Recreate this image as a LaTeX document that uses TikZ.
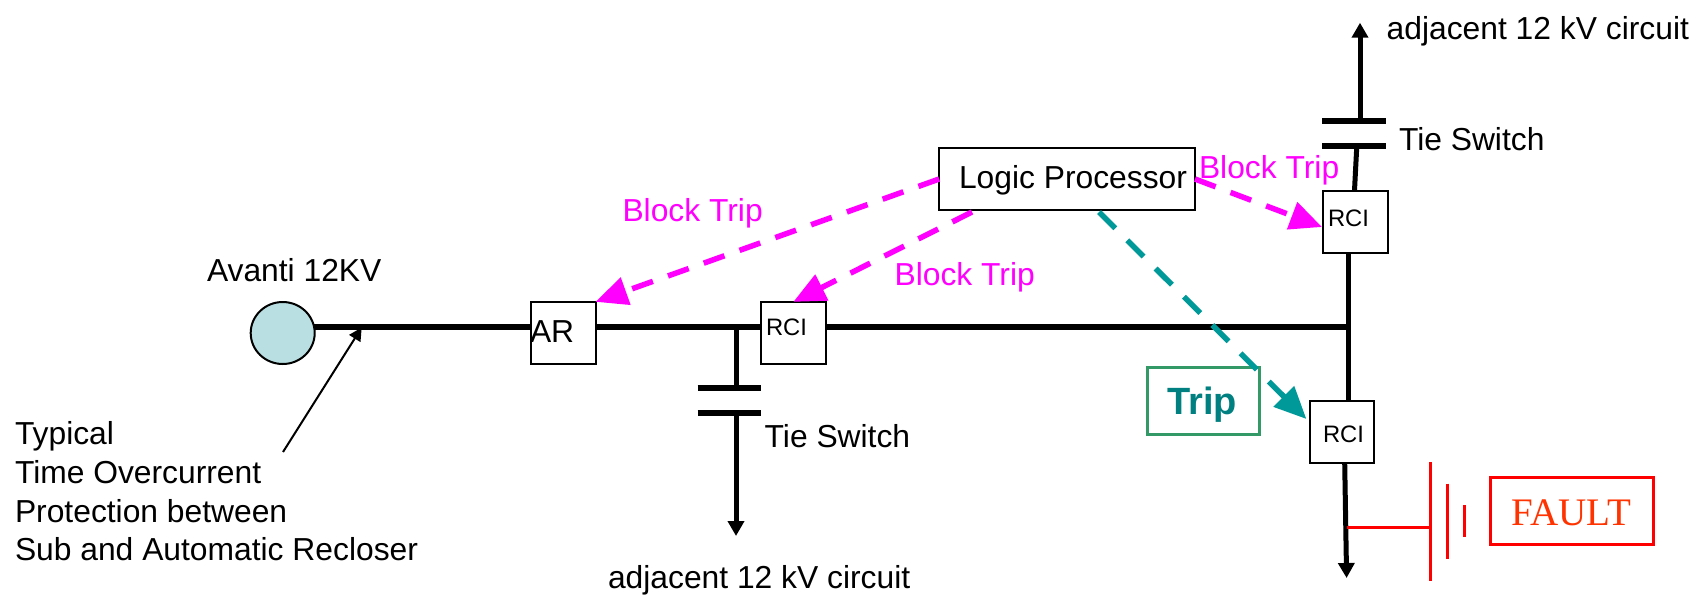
\documentclass[tikz,border=0pt]{standalone}
\usepackage{fontspec}
\setmainfont{Liberation Sans}
\newfontfamily\faultfont{Liberation Serif}
\usetikzlibrary{arrows.meta,shapes.geometric}
\definecolor{srcfill}{HTML}{B9DFE2}
\definecolor{blockpink}{HTML}{FF00FF}
\definecolor{tripteal}{HTML}{009999}
\definecolor{triptext}{HTML}{008080}
\definecolor{tripgreen}{HTML}{339966}
\definecolor{faultred}{HTML}{FF0000}
\definecolor{faulttext}{HTML}{FF3300}
\tikzset{
  x=1pt,y=-1pt,
  txt/.style={inner sep=0pt,outer sep=0pt,anchor=base west,font=\fontsize{31.8}{36}\selectfont},
  smalltxt/.style={txt,font=\fontsize{23.8}{26}\selectfont},
  pinktxt/.style={txt,text=blockpink},
  devbox/.style={draw=black,line width=2pt,fill=white,inner sep=0pt,outer sep=0pt},
  wire/.style={draw=black,line width=6pt},
  feeder/.style={draw=black,line width=5pt},
  plate/.style={draw=black,line width=6pt},
  feedarrow/.style={feeder,-{Triangle[length=15pt,width=16pt]}},
  blockarrow/.style={draw=blockpink,line width=5.5pt,dash pattern=on 22pt off 16pt,-{Triangle[length=32pt,width=28pt]}},
  triparrow/.style={draw=tripteal,line width=5.5pt,dash pattern=on 23pt off 17pt,-{Triangle[length=32pt,width=28pt]}},
  faultline/.style={draw=faultred,line width=3pt},
}
\begin{document}
\begin{tikzpicture}
\useasboundingbox (0,0) rectangle (1694,595);
\fill[white] (0,0) rectangle (1694,595);
% devices
\node[ellipse,draw=black,line width=2pt,fill=srcfill,minimum width=64pt,minimum height=62pt,inner sep=0pt,outer sep=0pt] (src) at (282.7,333) {};
\node[devbox,minimum width=64.7pt,minimum height=62.3pt] (ar) at (563.2,333) {};
\node[devbox,minimum width=64.6pt,minimum height=62.3pt] (rcib) at (793.3,333) {};
\node[devbox,minimum width=65pt,minimum height=62pt] (rcia) at (1355,222) {};
\node[devbox,minimum width=64pt,minimum height=62.3pt] (rcic) at (1342,432) {};
\node[devbox,minimum width=255.7pt,minimum height=62pt,fill=white] (logic) at (1067,179) {};
\node[draw=tripgreen,line width=3pt,minimum width=112pt,minimum height=67pt,inner sep=0pt,outer sep=0pt] (tripbox) at (1203.2,400.8) {};
\node[draw=faultred,line width=3pt,minimum width=162.5pt,minimum height=67.3pt,inner sep=0pt,outer sep=0pt] (faultbox) at (1572,511.3) {};
% wire coordinates
\coordinate (jct) at (1348.5,326.7);
\coordinate (tapb) at (736,326.7);
\coordinate (arin) at (ar.west |- jct);
\coordinate (arout) at (ar.east |- jct);
\coordinate (rbin) at (rcib.west |- jct);
\coordinate (rbout) at (rcib.east |- jct);
\coordinate (srcout) at (314,326.7);
\coordinate (platebl) at (697.5,388.3);
\coordinate (platebr) at (761,388.3);
\coordinate (platecl) at (697.5,413);
\coordinate (platecr) at (761,413);
\coordinate (bplatetop) at (736,388.3);
\coordinate (bplatebot) at (736,413);
\coordinate (btip) at (736,536);
\coordinate (plateal) at (1322.3,121.3);
\coordinate (platear) at (1386,121.3);
\coordinate (platedl) at (1322.3,145.7);
\coordinate (platedr) at (1386,145.7);
\coordinate (aplateup) at (1360,121.3);
\coordinate (atip) at (1360,22.7);
\coordinate (aplatelow) at (1356.8,145.7);
\coordinate (rcaNorth) at (1354.5,190.3);
\coordinate (rcaSouth) at (1348.5,253);
\coordinate (rccNorth) at (1348.5,400.7);
\coordinate (rccSouth) at (1344.7,463);
\coordinate (ctip) at (1346.6,578);
\coordinate (annostart) at (283,452);
\coordinate (annotip) at (361.7,327.5);
% black wires
\draw[wire] (srcout) -- (arin);
\draw[wire] (arout) -- (rbin);
\draw[wire] (rbout) -- (jct);
\draw[feeder] (tapb) -- (bplatetop);
\draw[plate] (platebl) -- (platebr);
\draw[plate] (platecl) -- (platecr);
\draw[feedarrow] (bplatebot) -- (btip);
\draw[feedarrow] (aplateup) -- (atip);
\draw[plate] (plateal) -- (platear);
\draw[plate] (platedl) -- (platedr);
\draw[feeder] (aplatelow) -- (rcaNorth);
\draw[feeder,line width=5.5pt] (rcaSouth) -- (rccNorth);
\draw[feedarrow] (rccSouth) -- (ctip);
\draw[draw=black,line width=2pt,-{Triangle[length=13pt,width=13pt]}] (annostart) -- (annotip);
% fault symbol
\coordinate (ftap) at (1347,527);
\coordinate (fp1) at (1430.7,527);
\coordinate (fp1t) at (1430.7,462.3);
\coordinate (fp1b) at (1430.7,580.7);
\coordinate (fp2t) at (1447.7,483.7);
\coordinate (fp2b) at (1447.7,559);
\coordinate (fp3t) at (1464.4,505);
\coordinate (fp3b) at (1464.4,537);
\draw[faultline] (ftap) -- (fp1);
\draw[faultline] (fp1t) -- (fp1b);
\draw[faultline] (fp2t) -- (fp2b);
\draw[faultline] (fp3t) -- (fp3b);
% control arrows
\coordinate (lgA) at (972,212);
\coordinate (lgB) at (1099,212);
\coordinate (lgC) at (1195,179);
\coordinate (tipA) at (1322,227);
\coordinate (tipC) at (1306.4,419);
\draw[blockarrow] (logic.west) -- (ar.north east);
\draw[blockarrow] (lgA) -- (rcib.north);
\draw[blockarrow] (lgC) -- (tipA);
\draw[triparrow] (lgB) -- (tipC);
% text
\node[txt] (logiclabel) at (959,188.5) {Logic Processor};
\node[txt] (arlabel) at (530,342) {AR};
\node[smalltxt] (rciblabel) at (766,335.5) {RCI};
\node[smalltxt] (rcialabel) at (1328,226.5) {RCI};
\node[smalltxt] (rciclabel) at (1323,442.5) {RCI};
\node[txt] (avanti) at (207,281) {Avanti 12KV};
\node[txt] (topadj) at (1386.7,39.5) {adjacent 12 kV circuit};
\node[txt] (botadj) at (608,588) {adjacent 12 kV circuit};
\node[txt] (tie1) at (1399,150) {Tie Switch};
\node[txt] (tie2) at (764.7,447.5) {Tie Switch};
\node[pinktxt] (bt1) at (1199,178.5) {Block Trip};
\node[pinktxt] (bt2) at (622.5,221.5) {Block Trip};
\node[pinktxt] (bt3) at (894.6,285.5) {Block Trip};
\node[txt] (n1) at (15,444.5) {Typical};
\node[txt] (n2) at (15,483) {Time Overcurrent};
\node[txt] (n3) at (15,522) {Protection between};
\node[txt] (n4) at (15,560) {Sub and Automatic Recloser};
\node[txt,font=\fontsize{38}{40}\selectfont\bfseries,text=triptext] (triplabel) at (1167.4,414) {Trip};
\node[txt,font=\fontsize{39}{40}\selectfont\faultfont,text=faulttext] (faultlabel) at (1511.7,525) {FAULT};
\end{tikzpicture}
\end{document}
